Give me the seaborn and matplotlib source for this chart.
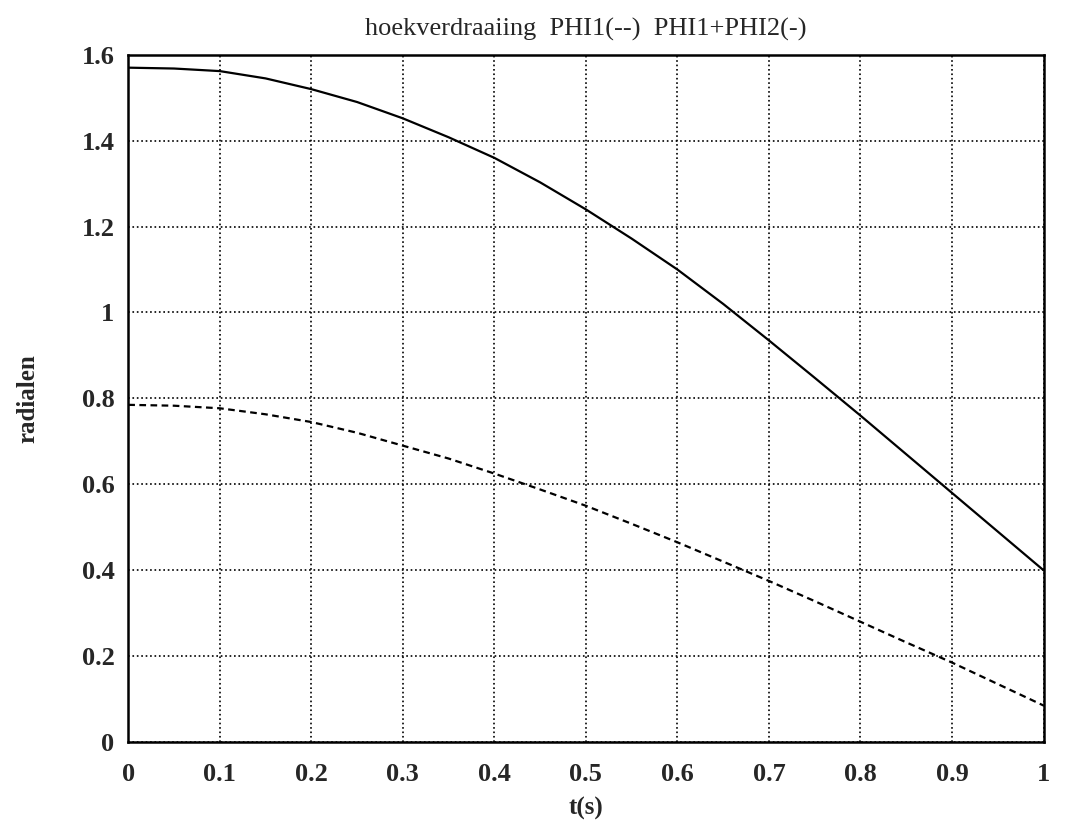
import pandas as pd
import matplotlib
matplotlib.use('Agg')
import matplotlib.pyplot as plt
import seaborn as sns

t = [0, 0.05, 0.1, 0.15, 0.2, 0.25, 0.3, 0.35, 0.4, 0.45, 0.5,
     0.55, 0.6, 0.65, 0.7, 0.75, 0.8, 0.85, 0.9, 0.95, 1.0]
phi12 = [1.570, 1.568, 1.562, 1.545, 1.520, 1.490, 1.452, 1.408, 1.360, 1.303, 1.240,
         1.172, 1.100, 1.020, 0.935, 0.848, 0.760, 0.670, 0.580, 0.490, 0.400]
phi1 = [0.785, 0.783, 0.777, 0.763, 0.745, 0.720, 0.690, 0.660, 0.625, 0.588, 0.550,
        0.508, 0.465, 0.420, 0.375, 0.328, 0.280, 0.232, 0.185, 0.135, 0.085]

xticks = [0, 0.1, 0.2, 0.3, 0.4, 0.5, 0.6, 0.7, 0.8, 0.9, 1]
xticklabels = ['0', '0.1', '0.2', '0.3', '0.4', '0.5', '0.6', '0.7', '0.8', '0.9', '1']
yticks = [0, 0.2, 0.4, 0.6, 0.8, 1, 1.2, 1.4, 1.6]
yticklabels = ['0', '0.2', '0.4', '0.6', '0.8', '1', '1.2', '1.4', '1.6']

df = pd.DataFrame({'t': t + t,
                   'phi': phi12 + phi1,
                   'serie': ['PHI1+PHI2'] * len(t) + ['PHI1'] * len(t)})

sns.set_style('white')
plt.rcParams['font.family'] = ['Liberation Serif', 'DejaVu Serif']

fig = plt.figure(figsize=(10.78, 8.30), dpi=100)
ax = fig.add_axes([0.119, 0.106, 0.849, 0.828])

sns.lineplot(data=df, x='t', y='phi', style='serie',
             dashes={'PHI1+PHI2': '', 'PHI1': (3, 2)},
             color='black', linewidth=1.6, legend=False, ax=ax)

ax.set_xlim(0, 1)
ax.set_ylim(0, 1.6)
ax.set_xticks(xticks)
ax.set_xticklabels(xticklabels)
ax.set_yticks(yticks)
ax.set_yticklabels(yticklabels)
ax.grid(True, color='black', linestyle=':', linewidth=1.2)
ax.tick_params(direction='in', length=6, labelsize=19, width=1.2)
ax.tick_params(axis='x', pad=15)
ax.tick_params(axis='y', pad=10)
for lab in ax.get_xticklabels() + ax.get_yticklabels():
    lab.set_fontweight('bold')
for s in ax.spines.values():
    s.set_color('black')
    s.set_linewidth(1.8)

ax.set_title('hoekverdraaiing  PHI1(--)  PHI1+PHI2(-)', fontsize=19, pad=14)
ax.set_xlabel('t(s)', fontsize=18, fontweight='bold', labelpad=8)
ax.set_ylabel('radialen', fontsize=18, fontweight='bold', labelpad=30)

fig.savefig('out.png', dpi=100)
